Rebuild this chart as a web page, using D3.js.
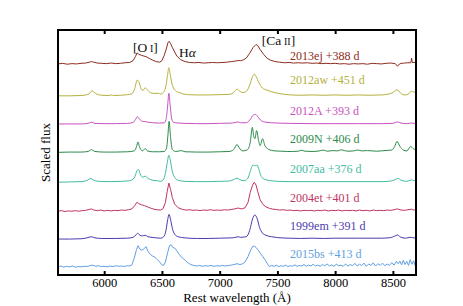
<!DOCTYPE html>
<html>
<head>
<meta charset="utf-8">
<script src="https://cdn.jsdelivr.net/npm/d3@7/dist/d3.min.js"></script>
<style>
  body { margin: 0; background: #fff; }
  svg text { font-family: "Liberation Serif", "Times New Roman", Times, "DejaVu Serif", serif; }
</style>
</head>
<body>
<svg id="chart" width="463" height="306"></svg>
<script>
// spectra, top to bottom
const names = ['2013ej', '2012aw', '2012A', '2009N', '2007aa', '2004et', '1999em', '2015bs'];
const epochs = [388, 451, 393, 406, 376, 401, 391, 413];
const offsets = [7.03, 5.93, 4.96, 3.98, 2.95, 1.95, 0.99, 0.03];
const colors = ['#8e2d20', '#b5b03c', '#c952be', '#2c8a4a', '#3fbca0', '#bf3462', '#4b3aae', '#5f9fe0'];
const noisy = [true, false, false, false, false, true, false, true];
const xTicks = [6000, 6500, 7000, 7500, 8000, 8500];

// [rest wavelength (A), scaled flux]
const sn2013ej = [[5600,0.25],[5640,0.27],[5680,0.24],[5720,0.26],[5760,0.25],[5800,0.27],[5840,0.28],[5870,0.31],[5890,0.33],[5910,0.31],[5940,0.28],[5980,0.27],[6020,0.26],[6060,0.28],[6100,0.26],[6140,0.27],[6180,0.29],[6220,0.30],[6250,0.36],[6270,0.50],[6285,0.63],[6300,0.58],[6320,0.55],[6345,0.52],[6364,0.50],[6390,0.44],[6420,0.38],[6450,0.33],[6480,0.31],[6500,0.36],[6520,0.55],[6540,0.80],[6552,0.98],[6562,1.03],[6575,0.95],[6590,0.82],[6610,0.66],[6630,0.52],[6660,0.40],[6700,0.33],[6740,0.30],[6780,0.29],[6820,0.30],[6860,0.28],[6900,0.29],[6940,0.30],[6980,0.29],[7020,0.30],[7060,0.31],[7100,0.33],[7140,0.35],[7160,0.37],[7180,0.36],[7200,0.38],[7230,0.45],[7260,0.62],[7290,0.82],[7315,0.92],[7330,0.88],[7350,0.75],[7380,0.58],[7410,0.45],[7440,0.38],[7480,0.33],[7520,0.31],[7560,0.29],[7600,0.30],[7640,0.28],[7680,0.29],[7720,0.28],[7760,0.29],[7800,0.27],[7840,0.28],[7880,0.26],[7920,0.27],[7960,0.26],[8000,0.27],[8040,0.25],[8080,0.26],[8120,0.24],[8160,0.26],[8200,0.25],[8240,0.26],[8280,0.24],[8320,0.27],[8360,0.26],[8400,0.25],[8440,0.27],[8480,0.28],[8520,0.26],[8540,0.17],[8548,0.22],[8570,0.27],[8600,0.28],[8630,0.29],[8655,0.29],[8662,0.45],[8668,0.30],[8700,0.30]];
const sn2012aw = [[5600,0.25],[5700,0.25],[5800,0.26],[5850,0.29],[5880,0.36],[5895,0.43],[5910,0.38],[5940,0.30],[5980,0.27],[6040,0.26],[6062,0.28],[6080,0.26],[6150,0.27],[6200,0.29],[6240,0.32],[6265,0.50],[6285,0.79],[6300,0.74],[6320,0.48],[6335,0.44],[6356,0.53],[6370,0.47],[6400,0.36],[6440,0.33],[6470,0.34],[6490,0.31],[6520,0.40],[6535,0.60],[6548,0.95],[6560,1.22],[6572,0.98],[6585,0.70],[6600,0.52],[6620,0.42],[6650,0.36],[6690,0.31],[6730,0.29],[6800,0.28],[6900,0.28],[7000,0.29],[7080,0.30],[7120,0.36],[7150,0.48],[7170,0.42],[7200,0.36],[7230,0.40],[7260,0.62],[7285,0.92],[7300,1.0],[7315,0.92],[7340,0.70],[7370,0.52],[7400,0.46],[7440,0.40],[7500,0.34],[7560,0.30],[7620,0.28],[7700,0.27],[7800,0.28],[7900,0.27],[8000,0.28],[8100,0.27],[8200,0.28],[8300,0.27],[8400,0.28],[8460,0.31],[8500,0.36],[8530,0.45],[8545,0.44],[8570,0.33],[8600,0.28],[8630,0.30],[8660,0.41],[8680,0.38],[8700,0.38]];
const sn2012A = [[5600,0.25],[5700,0.25],[5800,0.25],[5860,0.27],[5890,0.31],[5920,0.27],[6000,0.26],[6100,0.26],[6200,0.27],[6250,0.30],[6270,0.40],[6288,0.50],[6305,0.42],[6330,0.34],[6356,0.33],[6380,0.31],[6420,0.29],[6480,0.28],[6520,0.29],[6535,0.40],[6548,0.80],[6560,1.31],[6572,0.85],[6585,0.42],[6600,0.31],[6640,0.28],[6700,0.27],[6800,0.26],[6900,0.26],[7000,0.27],[7100,0.28],[7140,0.30],[7160,0.32],[7180,0.29],[7230,0.29],[7260,0.38],[7290,0.55],[7310,0.58],[7330,0.50],[7360,0.36],[7400,0.31],[7500,0.28],[7600,0.27],[7800,0.26],[8000,0.26],[8200,0.26],[8400,0.26],[8500,0.27],[8540,0.32],[8570,0.28],[8620,0.26],[8660,0.28],[8700,0.26]];
const sn2009N = [[5600,0.25],[5700,0.26],[5800,0.26],[5860,0.28],[5890,0.34],[5920,0.28],[6000,0.26],[6100,0.26],[6200,0.27],[6260,0.30],[6280,0.45],[6292,0.61],[6305,0.45],[6330,0.30],[6356,0.38],[6375,0.30],[6420,0.27],[6480,0.27],[6520,0.28],[6540,0.40],[6552,0.85],[6562,1.32],[6574,0.80],[6590,0.35],[6620,0.28],[6668,0.31],[6700,0.27],[6800,0.26],[6900,0.26],[7000,0.27],[7080,0.28],[7120,0.34],[7150,0.52],[7170,0.40],[7200,0.30],[7240,0.34],[7265,0.60],[7283,1.11],[7295,0.80],[7305,0.72],[7320,1.0],[7335,0.70],[7350,0.48],[7372,0.72],[7390,0.50],[7420,0.36],[7447,0.32],[7480,0.30],[7530,0.29],[7580,0.28],[7630,0.28],[7680,0.29],[7707,0.32],[7740,0.29],[7800,0.28],[7850,0.29],[7900,0.33],[7930,0.29],[7980,0.31],[8020,0.30],[8054,0.34],[8080,0.31],[8120,0.29],[8160,0.30],[8198,0.33],[8230,0.30],[8280,0.31],[8320,0.30],[8360,0.29],[8400,0.30],[8458,0.32],[8490,0.33],[8515,0.45],[8536,0.63],[8560,0.46],[8590,0.33],[8620,0.30],[8654,0.45],[8675,0.38],[8700,0.33]];
const sn2007aa = [[5600,0.25],[5700,0.26],[5800,0.27],[5850,0.31],[5885,0.38],[5905,0.33],[5950,0.28],[6050,0.27],[6150,0.28],[6220,0.30],[6260,0.40],[6285,0.65],[6297,0.69],[6315,0.50],[6335,0.42],[6356,0.46],[6380,0.38],[6420,0.32],[6460,0.30],[6490,0.28],[6510,0.33],[6530,0.55],[6545,0.90],[6560,1.18],[6575,0.95],[6590,0.62],[6610,0.42],[6640,0.32],[6700,0.28],[6800,0.27],[6900,0.27],[7000,0.28],[7080,0.29],[7120,0.34],[7150,0.39],[7175,0.34],[7210,0.30],[7240,0.36],[7265,0.62],[7280,0.80],[7290,0.84],[7310,0.82],[7325,0.84],[7340,0.68],[7360,0.45],[7390,0.35],[7430,0.31],[7500,0.28],[7600,0.27],[7800,0.27],[8000,0.27],[8200,0.27],[8400,0.27],[8480,0.29],[8520,0.34],[8544,0.38],[8570,0.32],[8620,0.28],[8660,0.33],[8680,0.31],[8700,0.29]];
const sn2004et = [[5600,0.25],[5630,0.27],[5660,0.24],[5690,0.26],[5720,0.25],[5750,0.27],[5780,0.25],[5810,0.27],[5840,0.28],[5870,0.31],[5890,0.33],[5910,0.29],[5940,0.27],[5970,0.29],[6000,0.26],[6030,0.28],[6060,0.26],[6090,0.28],[6120,0.27],[6150,0.29],[6180,0.28],[6210,0.30],[6240,0.33],[6265,0.45],[6284,0.56],[6300,0.51],[6325,0.47],[6350,0.44],[6375,0.40],[6400,0.36],[6430,0.32],[6460,0.30],[6490,0.29],[6510,0.34],[6530,0.55],[6545,0.92],[6560,1.22],[6575,1.0],[6590,0.72],[6610,0.50],[6640,0.37],[6680,0.31],[6710,0.29],[6740,0.30],[6770,0.28],[6800,0.29],[6830,0.27],[6860,0.29],[6890,0.28],[6920,0.30],[6950,0.28],[6980,0.29],[7010,0.28],[7040,0.30],[7070,0.29],[7100,0.31],[7130,0.33],[7160,0.36],[7190,0.33],[7220,0.37],[7245,0.55],[7265,0.90],[7285,1.15],[7300,1.25],[7315,1.15],[7330,0.92],[7350,0.65],[7375,0.48],[7400,0.40],[7430,0.35],[7460,0.32],[7490,0.31],[7520,0.29],[7550,0.30],[7580,0.28],[7610,0.29],[7640,0.27],[7670,0.28],[7700,0.26],[7730,0.28],[7760,0.27],[7790,0.28],[7820,0.26],[7850,0.28],[7880,0.27],[7910,0.29],[7940,0.26],[7970,0.28],[8000,0.27],[8030,0.29],[8060,0.26],[8090,0.28],[8120,0.27],[8150,0.28],[8180,0.26],[8210,0.29],[8240,0.27],[8270,0.28],[8300,0.26],[8330,0.29],[8360,0.27],[8390,0.28],[8420,0.27],[8450,0.29],[8480,0.28],[8510,0.30],[8540,0.33],[8570,0.29],[8600,0.28],[8630,0.30],[8660,0.32],[8680,0.29],[8700,0.30]];
const sn1999em = [[5600,0.25],[5700,0.25],[5800,0.26],[5850,0.29],[5888,0.33],[5920,0.29],[5980,0.27],[6100,0.27],[6200,0.28],[6250,0.31],[6275,0.39],[6290,0.45],[6310,0.38],[6330,0.36],[6356,0.38],[6380,0.33],[6430,0.30],[6490,0.28],[6515,0.33],[6535,0.55],[6550,0.92],[6562,1.10],[6575,0.92],[6590,0.62],[6610,0.42],[6640,0.33],[6700,0.29],[6800,0.27],[6900,0.27],[7000,0.28],[7100,0.29],[7140,0.31],[7160,0.33],[7180,0.31],[7230,0.33],[7260,0.55],[7285,0.95],[7305,1.08],[7325,0.95],[7345,0.65],[7370,0.46],[7400,0.38],[7450,0.33],[7500,0.30],[7600,0.28],[7700,0.27],[7800,0.28],[7900,0.27],[8000,0.28],[8200,0.28],[8400,0.28],[8480,0.30],[8515,0.35],[8540,0.39],[8565,0.32],[8610,0.28],[8650,0.31],[8670,0.30],[8700,0.28]];
const sn2015bs = [[5600,0.25],[5625,0.28],[5650,0.24],[5675,0.27],[5700,0.25],[5725,0.28],[5750,0.24],[5775,0.26],[5800,0.25],[5825,0.27],[5850,0.26],[5875,0.29],[5900,0.31],[5925,0.27],[5950,0.29],[5975,0.26],[6000,0.27],[6025,0.25],[6050,0.28],[6075,0.26],[6100,0.29],[6125,0.27],[6150,0.28],[6175,0.26],[6200,0.29],[6220,0.28],[6240,0.32],[6260,0.55],[6280,0.85],[6293,0.98],[6310,0.86],[6330,0.82],[6350,0.90],[6362,0.95],[6380,0.78],[6400,0.68],[6420,0.62],[6440,0.58],[6460,0.50],[6480,0.42],[6500,0.32],[6515,0.30],[6530,0.42],[6550,0.75],[6565,0.98],[6580,1.01],[6595,0.92],[6610,0.90],[6630,0.80],[6650,0.68],[6670,0.58],[6690,0.52],[6710,0.44],[6730,0.38],[6750,0.33],[6775,0.30],[6800,0.28],[6825,0.30],[6850,0.27],[6875,0.29],[6900,0.28],[6925,0.30],[6950,0.27],[6975,0.29],[7000,0.28],[7025,0.30],[7050,0.28],[7075,0.30],[7100,0.31],[7125,0.33],[7150,0.36],[7175,0.33],[7200,0.36],[7220,0.42],[7245,0.60],[7265,0.80],[7285,0.95],[7300,0.97],[7315,0.92],[7335,0.82],[7355,0.70],[7375,0.60],[7395,0.48],[7415,0.35],[7430,0.26],[7450,0.30],[7470,0.27],[7490,0.31],[7510,0.26],[7530,0.29],[7550,0.27],[7570,0.31],[7590,0.26],[7610,0.29],[7630,0.27],[7650,0.32],[7670,0.27],[7690,0.30],[7710,0.28],[7730,0.33],[7750,0.27],[7770,0.31],[7790,0.28],[7810,0.34],[7830,0.28],[7850,0.31],[7870,0.27],[7890,0.33],[7910,0.29],[7930,0.35],[7950,0.28],[7970,0.32],[7990,0.27],[8010,0.34],[8030,0.29],[8050,0.31],[8070,0.27],[8090,0.35],[8110,0.28],[8130,0.33],[8150,0.29],[8170,0.37],[8190,0.28],[8210,0.34],[8230,0.30],[8250,0.38],[8270,0.27],[8290,0.35],[8310,0.30],[8330,0.39],[8350,0.28],[8370,0.36],[8390,0.30],[8410,0.38],[8430,0.29],[8450,0.35],[8470,0.30],[8490,0.40],[8510,0.31],[8530,0.44],[8545,0.36],[8560,0.45],[8575,0.32],[8590,0.48],[8605,0.33],[8620,0.44],[8635,0.30],[8650,0.50],[8665,0.34],[8680,0.46],[8692,0.30],[8700,0.38]];
const spectra = [sn2013ej, sn2012aw, sn2012A, sn2009N, sn2007aa, sn2004et, sn1999em, sn2015bs];

const serif = '"Liberation Serif", "Times New Roman", Times, "DejaVu Serif", serif';
const margin = {top: 30, right: 47, bottom: 31, left: 58};
const svg = d3.select('#chart');
const W = +svg.attr('width') - margin.left - margin.right;
const H = +svg.attr('height') - margin.top - margin.bottom;
const g = svg.append('g').attr('transform', `translate(${margin.left},${margin.top})`);

const x = d3.scaleLinear().domain([5600, 8700]).range([0, W]);
const y = d3.scaleLinear().domain([0, 8.45]).range([H, 0]);

g.append('clipPath').attr('id', 'clip')
    .append('rect').attr('width', W).attr('height', H);

const plot = g.append('g').attr('clip-path', 'url(#clip)');
spectra.forEach((s, i) => {
    let line = d3.line()
        .x(d => x(d[0]))
        .y(d => y(d[1] + offsets[i]))
        .curve(noisy[i] ? d3.curveLinear : d3.curveMonotoneX);
    plot.append('path')
        .datum(s)
        .attr('d', line)
        .style('fill', 'none')
        .style('stroke', colors[i])
        .style('stroke-width', 1);
});

// labels sit a little above each spectrum's continuum
const labelLift = i => i == 0 ? 0.38 : (i == 1 ? 0.66 : 0.57);
g.selectAll('.sn-label')
    .data(names)
    .enter()
    .append('text')
    .attr('class', 'sn-label')
    .attr('x', x(7610))
    .attr('y', (_, i) => y(offsets[i] + labelLift(i)))
    .style('font-family', serif)
    .style('font-size', '12px')
    .style('fill', (_, i) => colors[i])
    .text((d, i) => `${d} +${epochs[i]} d`);

// line identifications
function lineLabel(px, py, main, sc) {
    let t = g.append('text').attr('x', px).attr('y', py)
        .style('font-family', serif).style('font-size', '13.5px').style('fill', '#111');
    t.append('tspan').text(main);
    t.append('tspan').style('font-size', '10px').text(sc);
    t.append('tspan').text(']');
    return t;
}
lineLabel(x(6250), 22, '[O\u2009', 'I');
lineLabel(x(7365), 15, '[Ca\u2009', 'II');
let ha = g.append('text').attr('x', x(6648)).attr('y', 27)
    .style('font-family', serif).style('font-size', '13.5px').style('fill', '#111');
ha.append('tspan').text('H');
ha.append('tspan').style('font-style', 'italic').text('\u03b1');

// axes
const axB = d3.axisBottom(x).tickValues(xTicks).tickFormat(d3.format('d'))
    .tickSizeInner(-4).tickSizeOuter(0).tickPadding(3);
const axT = d3.axisTop(x).tickValues(xTicks).tickSizeInner(-4).tickSizeOuter(0).tickFormat('');
const gb = g.append('g').attr('transform', `translate(0,${H})`).call(axB);
const gt = g.append('g').call(axT);
[gb, gt].forEach(a => {
    a.attr('font-family', null);
    a.select('.domain').remove();
    a.selectAll('line').style('stroke', '#000').style('stroke-width', 2);
});
gb.selectAll('text')
    .style('font-family', serif)
    .style('font-size', '12.5px')
    .style('fill', '#000');

g.append('rect')
    .attr('width', W)
    .attr('height', H)
    .style('fill', 'none')
    .style('stroke', '#000')
    .style('stroke-width', 2);

g.append('text')
    .attr('x', W / 2)
    .attr('y', H + 27)
    .attr('text-anchor', 'middle')
    .style('font-family', serif)
    .style('font-size', '13px')
    .text('Rest wavelength (\u00c5)');

g.append('text')
    .attr('transform', `translate(-8,${H / 2}) rotate(-90)`)
    .attr('text-anchor', 'middle')
    .style('font-family', serif)
    .style('font-size', '13px')
    .text('Scaled flux');
</script>
</body>
</html>
